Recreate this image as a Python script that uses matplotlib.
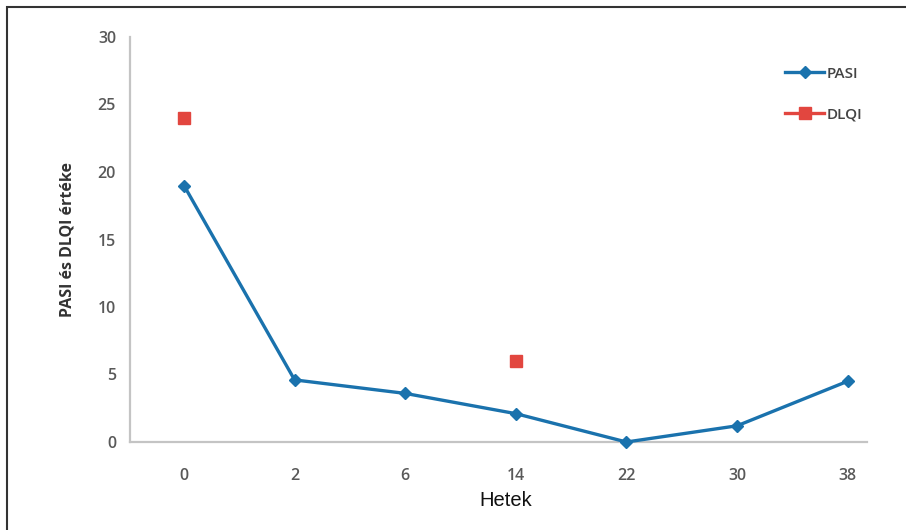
import numpy as np
import matplotlib.pyplot as plt
from matplotlib.patches import Rectangle

weeks = ["0", "2", "6", "14", "22", "30", "38"]
pasi = [19.0, 4.6, 3.6, 2.1, 0.0, 1.2, 4.5]
dlqi = [24.0, np.nan, np.nan, 6.0, np.nan, np.nan, np.nan]

blue = "#1a72ad"
red = "#e2463f"
tick_font = "Open Sans"

fig = plt.figure(figsize=(9.06, 5.30), dpi=100)
ax = fig.add_axes([130 / 906, 88 / 530, 737 / 906, 405 / 530])

x = np.arange(len(weeks))
ax.plot(x, pasi, color=blue, lw=2.4, marker="D", ms=6.5, label="PASI",
        clip_on=False, zorder=3)
ax.plot(x, dlqi, color=red, lw=2.4, marker="s", ms=9, label="DLQI",
        clip_on=False, zorder=3)

ax.set_xlim(-0.488, 6.175)
ax.set_ylim(0, 30)
ax.set_yticks(range(0, 31, 5))
ax.set_xticks(x)
ax.set_xticklabels(weeks)

for side in ("top", "right"):
    ax.spines[side].set_visible(False)
for side in ("left", "bottom"):
    ax.spines[side].set_color("#c4c4c4")
    ax.spines[side].set_linewidth(1.6)
ax.tick_params(length=0, pad=10, labelsize=11.5, labelcolor="#595959")
ax.tick_params(axis="x", pad=19)
for lab in ax.get_xticklabels() + ax.get_yticklabels():
    lab.set_fontfamily(tick_font)
    lab.set_fontweight("semibold")

ax.set_ylabel("PASI és DLQI értéke", fontsize=11.5, fontweight="bold",
              family=tick_font, color="#333333", labelpad=16)
fig.text(506 / 906, 1 - 500 / 530, "Hetek", ha="center", va="center",
         fontsize=14.5, family="Liberation Sans", color="#111111")

leg = ax.legend(loc="upper left", bbox_to_anchor=(771 / 906, 1 - 53 / 530),
                bbox_transform=fig.transFigure, frameon=False,
                handlelength=2.6, handletextpad=0.15, labelspacing=1.75,
                prop={"family": tick_font, "size": 11, "weight": "semibold"})
for t in leg.get_texts():
    t.set_color("#444444")

# outer frame, open on the right and bottom edges
fig.patches.append(Rectangle((7 / 906, -0.05), 1.2, 1 - 7 / 530 + 0.05,
                             transform=fig.transFigure, fill=False,
                             edgecolor="#333333", lw=1.5))

fig.savefig("out.png", dpi=100)
